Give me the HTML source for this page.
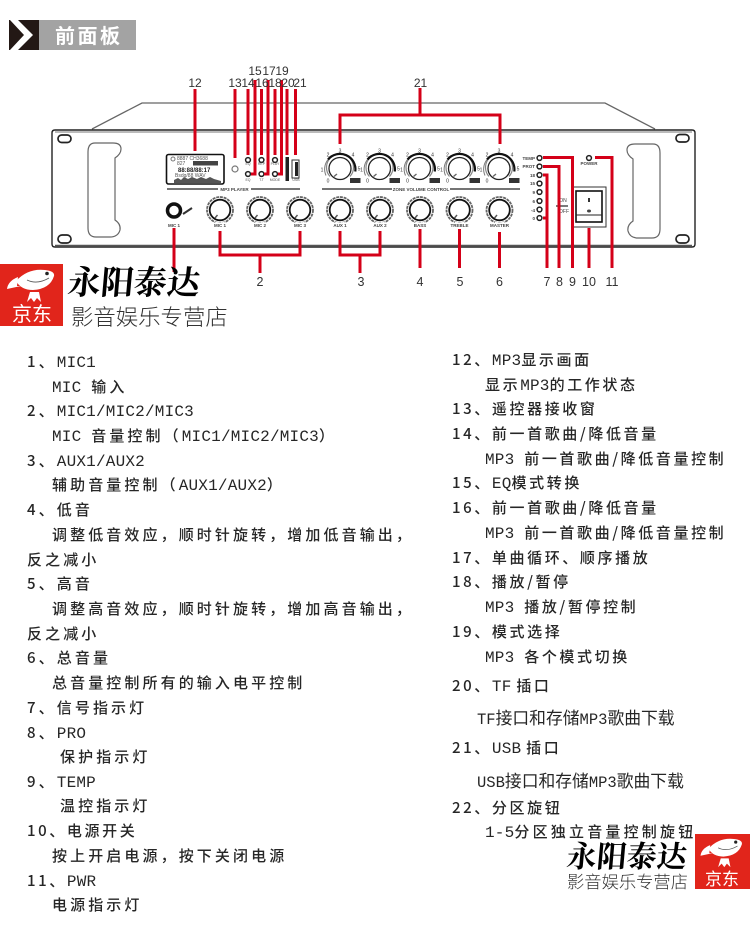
<!DOCTYPE html>
<html lang="zh">
<head>
<meta charset="utf-8">
<title>前面板</title>
<style>
html,body{margin:0;padding:0;background:#fff}
#p{position:relative;width:750px;height:936px;overflow:hidden;background:#fff;font-family:"Liberation Sans","Noto Sans CJK SC",sans-serif}
svg{position:absolute;left:0;top:0}
.t{position:absolute;white-space:pre;height:20px;line-height:20px;font-size:15px;font-weight:500;letter-spacing:2.6px;color:#262626;font-family:"Noto Sans CJK SC",sans-serif}
.l{letter-spacing:3.1px}
.t i{font-style:normal;font-family:"Liberation Mono",monospace;font-size:16px;letter-spacing:.2px;font-weight:400}
.t.n{letter-spacing:0;font-size:16.800px;font-weight:400}
.n i{letter-spacing:0;font-size:15.500px}
.brand{position:absolute;white-space:pre;color:#000;font-family:"Noto Serif CJK SC",serif;font-weight:700;transform:skewX(-5deg)}
.sub{position:absolute;white-space:pre;color:#333;font-family:"Noto Sans CJK SC",sans-serif;font-weight:300}
</style>
</head>
<body>
<div id="p">
<svg width="750" height="936" viewBox="0 0 750 936" xmlns="http://www.w3.org/2000/svg">
<defs>
<g id="k1">
<circle r="11" fill="#fff" stroke="#222" stroke-width="1.3"/>
<path d="M-10,8 A13.500,13.500 0 1 1 10,8" fill="none" stroke="#888" stroke-width="1.2"/>
<path d="M-12,-9 A15.500,15.500 0 0 1 15.300,3" fill="none" stroke="#111" stroke-width="2.200"/>
<path d="M-14,7 A15.500,15.500 0 0 1 -12,-9" fill="none" stroke="#777" stroke-width="1"/>
<path d="M-6,8 L-3,5.500" stroke="#666" stroke-width="1.400"/>
<rect x="10" y="9.500" width="10.500" height="5" fill="#333"/>
<g font-size="5" fill="#333" text-anchor="middle" font-family="Liberation Sans">
<text x="0" y="-16">3</text><text x="-12" y="-12">2</text><text x="13" y="-12">4</text><text x="-18" y="3">1</text><text x="19" y="2">5</text><text x="-12" y="14">0</text>
</g>
</g>
<g id="k2">
<circle r="13" fill="none" stroke="#666" stroke-width="1.800" stroke-dasharray="3 .8"/>
<circle r="10.300" fill="#fff" stroke="#111" stroke-width="1.800"/>
<path d="M-5,8 L-2.500,5" stroke="#555" stroke-width="1.400"/>
<path d="M-5,13 A14,14 0 0 0 5,13" fill="none" stroke="#fff" stroke-width="3"/>
</g>
<g id="led"><circle r="2.400" fill="#fff" stroke="#222" stroke-width="1.500"/></g>
<path id="hd" d="M95,143 H113 Q121,143 121,149 Q121,154 115,158 V220 Q121,224 120,230 Q118,237 110,237 H96 Q88,237 88,228 V152 Q88,143 95,143Z" fill="#fff" stroke="#666" stroke-width="1.200"/>
<g id="dog">
<path d="M4,19 Q5,11 15,7 L14,16 L18,16 Z" fill="#fff"/>
<path d="M13,11 Q25,-2 42,0 Q52,1 51,6 Q47,19 30,20 Q18,20 13,11Z" fill="#fff"/>
<circle cx="44" cy="3.500" r="1.800" fill="#222"/>
<path d="M24,10 Q34,15 46,8" fill="none" stroke="#555" stroke-width=".8"/>
<path d="M27,22 L36,22 L38,32 L34,28 L31,32 L28,28 L24,32Z" fill="#fff"/>
</g>
</defs>

<!-- header -->
<rect x="9" y="20" width="30" height="30" fill="#231815"/>
<path d="M18,20 L33,35 L18,50 L10,50 L24,35 L10,20Z" fill="#fff"/>
<rect x="39" y="20" width="97" height="30" fill="#a3a3a3"/>
<text x="55" y="43" font-size="20" font-weight="700" fill="#fff" letter-spacing="2.500" font-family="Noto Sans CJK SC">前面板</text>

<!-- chassis -->
<path d="M92,129 L142,103 H605 L655,129" fill="none" stroke="#666" stroke-width="1.300"/>
<path d="M55,130 H692 Q695,130 695,133 V244 Q695,247 692,247 H55 Q52,247 52,244 V133 Q52,130 55,130Z" fill="#fff" stroke="#222" stroke-width="1.400"/>
<path d="M55,132 H692" stroke="#777" stroke-width="1"/>
<path d="M55,245.500 H692" stroke="#555" stroke-width="1.500"/>
<use href="#hd"/>
<use href="#hd" transform="translate(748,1) scale(-1,1)"/>
<g fill="#fff" stroke="#222" stroke-width="1.700">
<rect x="58" y="135" width="13" height="7.500" rx="3.700"/><rect x="58" y="235" width="13" height="8" rx="4"/>
<rect x="676" y="134.500" width="13" height="7.500" rx="3.700"/><rect x="676" y="235" width="13" height="8" rx="4"/>
</g>

<!-- display -->
<rect x="166.500" y="154.500" width="57.500" height="29.500" rx="2" fill="#fff" stroke="#111" stroke-width="1.600"/>
<g font-family="Liberation Sans" fill="#555">
<text x="177" y="160" font-size="5">8887 CH3688</text>
<text x="177" y="165" font-size="5">827</text>
<rect x="193" y="161" width="25" height="4.500" fill="#444"/>
<text x="178" y="172" font-size="6" font-weight="700" fill="#222">88:88/88:17</text>
<text x="175" y="177" font-size="5">Bsdg/88 WAV</text>
</g>
<path d="M174,183 V180 L178,178 L181,180 L184,177 L188,179 L192,177 L197,179 L201,177 L206,179 L210,177 L214,179 L221,181 V183Z" fill="#555"/>
<circle cx="173" cy="159" r="2" fill="none" stroke="#777"/>

<!-- small controls -->
<circle cx="235" cy="169" r="3" fill="#fff" stroke="#777" stroke-width="1.200"/>
<use href="#led" x="248" y="160"/><use href="#led" x="261.500" y="160"/><use href="#led" x="275" y="160"/>
<use href="#led" x="248" y="174"/><use href="#led" x="261.500" y="174"/><use href="#led" x="275" y="174"/>
<rect x="285.500" y="157" width="3.500" height="24" fill="#222"/>
<rect x="292" y="160" width="7" height="18" fill="#fff" stroke="#333"/>
<rect x="295" y="162" width="3" height="14" fill="#222"/>
<g font-size="3.500" fill="#555" text-anchor="middle" font-family="Liberation Sans">
<text x="248" y="165">EQ</text><text x="261.500" y="165">REP</text><text x="275" y="165">PLAY</text>
<text x="248" y="181">EQ</text><text x="261.500" y="181">T.T</text><text x="275" y="181">MODE</text><text x="296" y="181">USB</text>
</g>
<path d="M167,189 H218 M251,189 H300 M322,189 H392 M450,189 H520" stroke="#222" stroke-width="1.200"/>
<text x="234.500" y="191" font-size="4.500" fill="#444" text-anchor="middle" font-family="Liberation Sans" font-weight="700">MP3 PLAYER</text>
<text x="421" y="191" font-size="4.500" fill="#444" text-anchor="middle" font-family="Liberation Sans" font-weight="700">ZONE VOLUME CONTROL</text>

<!-- knobs row 1 -->
<use href="#k1" x="340" y="168.500"/><use href="#k1" x="379.500" y="168.500"/><use href="#k1" x="419.500" y="168.500"/><use href="#k1" x="459.500" y="168.500"/><use href="#k1" x="499" y="168.500"/>
<!-- knobs row 2 -->
<circle cx="174" cy="210.500" r="6.500" fill="#fff" stroke="#111" stroke-width="3.500"/>
<path d="M183,214 L192,208" stroke="#333" stroke-width="2"/>
<use href="#k2" x="220" y="210"/><use href="#k2" x="260" y="210"/><use href="#k2" x="300" y="210"/><use href="#k2" x="340" y="210"/><use href="#k2" x="380" y="210"/><use href="#k2" x="420" y="210"/><use href="#k2" x="459.500" y="210"/><use href="#k2" x="499.500" y="210"/>
<g font-size="4.500" fill="#444" text-anchor="middle" font-family="Liberation Sans" font-weight="700">
<text x="174" y="227">MIC 1</text><text x="220" y="227">MIC 1</text><text x="260" y="227">MIC 2</text><text x="300" y="227">MIC 3</text><text x="340" y="227">AUX 1</text><text x="380" y="227">AUX 2</text><text x="420" y="227">BASS</text><text x="459.500" y="227">TREBLE</text><text x="499.500" y="227">MASTER</text>
<text x="589" y="165">POWER</text>
</g>

<!-- LEDs -->
<g font-size="4.500" fill="#444" text-anchor="end" font-family="Liberation Sans" font-weight="700">
<text x="535" y="160">TEMP</text><text x="535" y="168">PROT</text><text x="535" y="177">18</text><text x="535" y="185">15</text><text x="535" y="194">9</text><text x="535" y="203">6</text><text x="535" y="212">-4</text><text x="535" y="220">0</text>
</g>
<use href="#led" x="539.500" y="158"/><use href="#led" x="539.500" y="166.500"/><use href="#led" x="539.500" y="175"/><use href="#led" x="539.500" y="183.500"/><use href="#led" x="539.500" y="192"/><use href="#led" x="539.500" y="201"/><use href="#led" x="539.500" y="209.500"/><use href="#led" x="539.500" y="218"/>
<use href="#led" x="589" y="158"/>
<text x="563" y="202" font-size="5" fill="#444" text-anchor="middle" font-family="Liberation Sans">ON</text>
<path d="M556,206 H568" stroke="#222" stroke-width="1.200"/>
<text x="564" y="213" font-size="5" fill="#444" text-anchor="middle" font-family="Liberation Sans">OFF</text>

<!-- switch -->
<rect x="572.500" y="187" width="33.500" height="40" fill="#fff" stroke="#333" stroke-width="1"/>
<rect x="576" y="191" width="26" height="31" fill="#fff" stroke="#111" stroke-width="1.600"/>
<path d="M576,215 H602" stroke="#222" stroke-width="1"/>
<rect x="588" y="198" width="2" height="4" fill="#333"/>
<ellipse cx="589" cy="211" rx="2" ry="1.500" fill="#444"/>

<!-- red leaders -->
<g fill="none" stroke="#d40018" stroke-width="3">
<path d="M195,89 V151"/><path d="M235,89 V158"/><path d="M248,89 V155"/>
<path d="M255,80 V174 H251"/><path d="M261.500,89 V155"/><path d="M268,80 V174 H264"/>
<path d="M275,89 V155"/><path d="M281.500,80 V174 H278"/><path d="M287,89 V155"/><path d="M295.500,89 V155"/>
<path d="M340,144 V115 H500 V144"/><path d="M420,88 V115"/>
<path d="M220,231 V255 H300 V231"/><path d="M260,255 V273"/>
<path d="M340,231 V255 H380 V231"/><path d="M360,255 V273"/>
<path d="M420,229 V268"/><path d="M459.500,229 V268"/><path d="M499.500,232 V268"/>
<path d="M174,228 V272"/>
<path d="M543,175 H547 V268"/><path d="M543,218 H547"/>
<path d="M543,166.500 H559 V268"/>
<path d="M543,157.500 H572.500 V268"/>
<path d="M589,228 V268"/>
<path d="M595,157.500 H612 V268"/>
</g>

<!-- numbers -->
<g font-size="12" fill="#333" text-anchor="middle" font-family="Liberation Sans">
<text x="255" y="75">15</text><text x="269" y="75">17</text><text x="282" y="75">19</text>
<text x="195" y="87">12</text><text x="235" y="87">13</text><text x="248" y="87">14</text><text x="262" y="87">16</text><text x="275" y="87">18</text><text x="288" y="87">20</text><text x="300" y="87">21</text>
<text x="420.500" y="87" font-size="12">21</text>
</g>
<g font-size="12.500" fill="#333" text-anchor="middle" font-family="Liberation Sans">
<text x="260" y="286">2</text><text x="361" y="286">3</text><text x="420" y="286">4</text><text x="460" y="286">5</text><text x="499.500" y="286">6</text><text x="547" y="286">7</text><text x="559.500" y="286">8</text><text x="572.500" y="286">9</text><text x="589" y="286">10</text><text x="612" y="286">11</text>
</g>

<!-- logos -->
<rect x="0" y="264" width="63" height="62" fill="#e1251b"/>
<use href="#dog" x="3" y="270"/>
<text x="32" y="321" font-size="20" fill="#fff" text-anchor="middle" font-family="Noto Sans CJK SC" font-weight="400">京东</text>
<rect x="695" y="834" width="55" height="55" fill="#e1251b"/>
<use href="#dog" transform="translate(697,839) scale(.88)"/>
<text x="722" y="885" font-size="17" fill="#fff" text-anchor="middle" font-family="Noto Sans CJK SC" font-weight="400">京东</text>
</svg>

<div class="brand" style="left:68px;top:260px;font-size:33px;line-height:42px">永阳泰达</div>
<div class="sub" style="left:71px;top:301px;font-size:22.400px;line-height:30px">影音娱乐专营店</div>

<div class="t l" style="left:27px;top:352px">1、<i>MIC1</i></div>
<div class="t l" style="left:52px;top:377px"><i>MIC </i>输入</div>
<div class="t l" style="left:27px;top:401px">2、<i>MIC1/MIC2/MIC3</i></div>
<div class="t l" style="left:52px;top:426px"><i>MIC </i>音量控制（<i>MIC1/MIC2/MIC3</i>）</div>
<div class="t l" style="left:27px;top:451px">3、<i>AUX1/AUX2</i></div>
<div class="t l" style="left:52px;top:475px">辅助音量控制（<i>AUX1/AUX2</i>）</div>
<div class="t l" style="left:27px;top:500px">4、低音</div>
<div class="t l" style="left:52px;top:525px">调整低音效应，顺时针旋转，增加低音输出，</div>
<div class="t l" style="left:27px;top:550px">反之减小</div>
<div class="t l" style="left:27px;top:574px">5、高音</div>
<div class="t l" style="left:52px;top:599px">调整高音效应，顺时针旋转，增加高音输出，</div>
<div class="t l" style="left:27px;top:624px">反之减小</div>
<div class="t l" style="left:27px;top:648px">6、总音量</div>
<div class="t l" style="left:52px;top:673px">总音量控制所有的输入电平控制</div>
<div class="t l" style="left:27px;top:698px">7、信号指示灯</div>
<div class="t l" style="left:27px;top:723px">8、<i>PRO</i></div>
<div class="t l" style="left:60px;top:747px">保护指示灯</div>
<div class="t l" style="left:27px;top:772px">9、<i>TEMP</i></div>
<div class="t l" style="left:60px;top:796px">温控指示灯</div>
<div class="t" style="left:27px;top:821px">10、电源开关</div>
<div class="t l" style="left:52px;top:846px">按上开启电源，按下关闭电源</div>
<div class="t" style="left:27px;top:871px">11、<i>PWR</i></div>
<div class="t l" style="left:52px;top:895px">电源指示灯</div>

<div class="t" style="left:452px;top:350px">12、<i>MP3</i>显示画面</div>
<div class="t" style="left:485px;top:375px">显示<i>MP3</i>的工作状态</div>
<div class="t" style="left:452px;top:399px">13、遥控器接收窗</div>
<div class="t" style="left:452px;top:424px">14、前一首歌曲/降低音量</div>
<div class="t" style="left:485px;top:449px"><i>MP3 </i>前一首歌曲/降低音量控制</div>
<div class="t" style="left:452px;top:473px">15、<i>EQ</i>模式转换</div>
<div class="t" style="left:452px;top:498px">16、前一首歌曲/降低音量</div>
<div class="t" style="left:485px;top:523px"><i>MP3 </i>前一首歌曲/降低音量控制</div>
<div class="t" style="left:452px;top:548px">17、单曲循环、顺序播放</div>
<div class="t" style="left:452px;top:572px">18、播放/暂停</div>
<div class="t" style="left:485px;top:597px"><i>MP3 </i>播放/暂停控制</div>
<div class="t" style="left:452px;top:622px">19、模式选择</div>
<div class="t" style="left:485px;top:647px"><i>MP3 </i>各个模式切换</div>
<div class="t" style="left:452px;top:676px;word-spacing:-5px">20、<i>TF </i>插口</div>
<div class="t n" style="left:477px;top:707px"><i>TF</i>接口和存储<i>MP3</i>歌曲下载</div>
<div class="t" style="left:452px;top:738px;word-spacing:-5px">21、<i>USB </i>插口</div>
<div class="t n" style="left:477px;top:770px"><i>USB</i>接口和存储<i>MP3</i>歌曲下载</div>
<div class="t" style="left:452px;top:798px">22、分区旋钮</div>
<div class="t" style="left:485px;top:822px;letter-spacing:3.200px"><i>1-5</i>分区独立音量控制旋钮</div>

<div class="brand" style="left:567px;top:834px;font-size:30px;line-height:40px">永阳泰达</div>
<div class="sub" style="left:567px;top:869px;font-size:17.300px;line-height:24px;color:#333">影音娱乐专营店</div>
</div>
</body>
</html>
